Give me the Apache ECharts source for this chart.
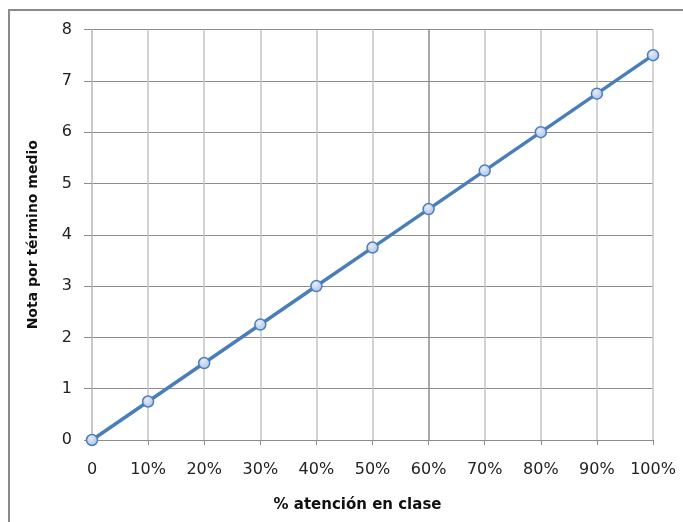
<!DOCTYPE html>
<html>
<head>
<meta charset="utf-8">
<script src="https://cdn.jsdelivr.net/npm/echarts@6/dist/echarts.min.js"></script>
<style>
  html, body { margin: 0; padding: 0; background: #fff; }
  #chart { width: 683px; height: 522px; }
</style>
</head>
<body>
<div id="chart"></div>
<script>
// Percentage of class attendance (x) and average grade (y)
const attendance = [0, 10, 20, 30, 40, 50, 60, 70, 80, 90, 100];
const grades = [0, 0.75, 1.5, 2.25, 3, 3.75, 4.5, 5.25, 6, 6.75, 7.5];
const xTitle = '% atención en clase';
const yTitle = 'Nota por término medio';

const FONT = 'DejaVu Sans';
// vertical grid lines: light gray, the 60% line darker
const vGridColors = attendance.map(v => v === 60 ? '#8c8c8c' : '#c4c4c4');

const chart = echarts.init(document.getElementById('chart'), null, { renderer: 'canvas' });
chart.setOption({
  animation: false,
  backgroundColor: '#ffffff',
  graphic: [{
    type: 'rect',
    shape: { x: 9, y: 10, width: 700, height: 540 },
    style: { fill: 'none', stroke: '#8a8a8a', lineWidth: 2 },
    z: 0
  }],
  grid: { left: 92, top: 29.5, right: 30, bottom: 82, containLabel: false },
  xAxis: {
    type: 'value', min: 0, max: 100, interval: 10,
    name: xTitle, nameLocation: 'middle', nameGap: 58,
    nameTextStyle: { fontFamily: FONT, fontSize: 15, fontWeight: 'bold', color: '#111', padding: [0, 30, 0, 0] },
    axisLine: { show: true, lineStyle: { color: '#8c8c8c', width: 1 } },
    axisTick: { show: true, length: 5, lineStyle: { color: '#8c8c8c' } },
    axisLabel: {
      fontFamily: FONT, fontSize: 16, color: '#222', margin: 22,
      formatter: v => v === 0 ? '0' : v + '%'
    },
    splitLine: { show: true, lineStyle: { color: vGridColors, width: 1.5 } }
  },
  yAxis: {
    type: 'value', min: 0, max: 8, interval: 1,
    name: yTitle, nameLocation: 'middle', nameGap: 52, nameRotate: 90,
    nameTextStyle: { fontFamily: FONT, fontSize: 14, fontWeight: 'bold', color: '#111' },
    axisLine: { show: true, lineStyle: { color: '#c4c4c4', width: 1.5 } },
    axisTick: { show: true, length: 8, lineStyle: { color: '#8c8c8c' } },
    axisLabel: { fontFamily: FONT, fontSize: 16, color: '#222', margin: 20 },
    splitLine: { show: true, lineStyle: { color: '#8c8c8c', width: 1 } }
  },
  series: [{
    type: 'line',
    data: attendance.map((x, i) => [x, grades[i]]),
    symbol: 'circle',
    symbolSize: 11,
    showAllSymbol: true,
    lineStyle: { color: '#4a7ebb', width: 3.5 },
    itemStyle: {
      color: new echarts.graphic.RadialGradient(0.4, 0.35, 0.7, [
        { offset: 0, color: '#e4ecf8' },
        { offset: 1, color: '#aac0e4' }
      ]),
      borderColor: '#4a7ebb',
      borderWidth: 1.5
    },
    z: 3
  }]
});
</script>
</body>
</html>
